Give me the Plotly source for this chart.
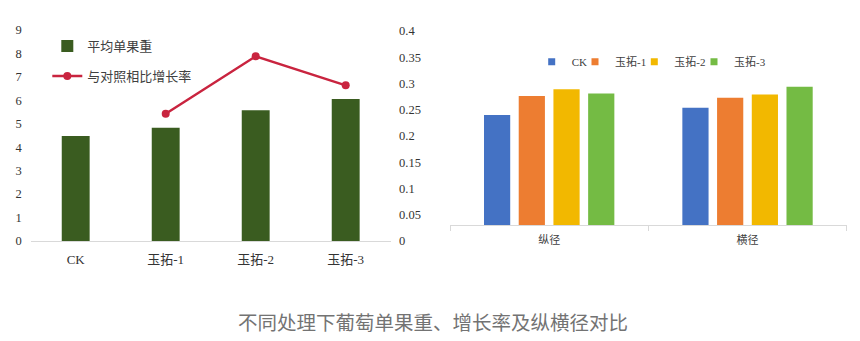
import plotly.graph_objects as go

# ---- data ----
treatments = ["CK", "玉拓-1", "玉拓-2", "玉拓-3"]
fruit_weight = [4.48, 4.83, 5.58, 6.06]          # 平均单果重
growth_rate = [None, 5.43, 7.88, 6.64]           # 与对照相比增长率
left_ticks = [0, 1, 2, 3, 4, 5, 6, 7, 8, 9]

diameters = ["纵径", "横径"]
diameter_values = {
    "CK": [0.240, 0.254],
    "玉拓-1": [0.276, 0.273],
    "玉拓-2": [0.289, 0.279],
    "玉拓-3": [0.281, 0.294],
}
right_ticks = [0, 0.05, 0.1, 0.15, 0.2, 0.25, 0.3, 0.35, 0.4]
right_tick_text = ["0", "0.05", "0.1", "0.15", "0.2", "0.25", "0.3", "0.35", "0.4"]

title_text = "不同处理下葡萄单果重、增长率及纵横径对比"

# ---- styling ----
W, H = 860, 341
SERIF = "Liberation Serif, Noto Sans CJK SC"
SANS = "Noto Sans CJK SC, Liberation Sans"
series_colors = {"CK": "#4472c4", "玉拓-1": "#ed7d31", "玉拓-2": "#f2b800", "玉拓-3": "#74bb44"}
GREEN = "#3a5c20"
RED = "#c9243f"
AXIS_GRAY = "#d9d9d9"


def px_y(py):
    return 1 - py / H


def px_x(px):
    return px / W


fig = go.Figure()

# left: fruit weight bars + growth rate line
fig.add_trace(go.Bar(
    x=treatments, y=fruit_weight, name="平均单果重", width=0.31,
    marker=dict(color=GREEN, line=dict(width=0)),
    xaxis="x", yaxis="y", legend="legend",
))
fig.add_trace(go.Scatter(
    x=treatments, y=growth_rate, name="与对照相比增长率", mode="lines+markers",
    line=dict(color=RED, width=2.5), marker=dict(color=RED, size=8),
    xaxis="x", yaxis="y", legend="legend2", cliponaxis=False,
))

# right: grouped diameter bars
legend_names = ["legend3", "legend4", "legend5", "legend6"]
for name, lg in zip(treatments, legend_names):
    fig.add_trace(go.Bar(
        x=diameters, y=diameter_values[name], name=name,
        marker=dict(color=series_colors[name], line=dict(width=0)),
        xaxis="x2", yaxis="y2", showlegend=False,
    ))
    # small square key for the legend
    fig.add_trace(go.Scatter(
        x=[None], y=[None], name=name, mode="markers",
        marker=dict(symbol="square", size=7, color=series_colors[name]),
        xaxis="x2", yaxis="y2", legend=lg, hoverinfo="skip",
    ))

# tick scale shown beside the right chart
fig.add_trace(go.Scatter(x=[None], y=[None], xaxis="x3", yaxis="y3",
                         showlegend=False, hoverinfo="skip"))

tick_font_l = dict(family=SERIF, size=12.5, color="#333333")
cat_font_l = dict(family=SERIF, size=13, color="#333333")

layout = dict(
    width=W, height=H,
    margin=dict(l=0, r=0, t=0, b=0, autoexpand=False),
    paper_bgcolor="white", plot_bgcolor="rgba(0,0,0,0)",
    barmode="group", bargap=0.3, bargroupgap=0.245,
    showlegend=True,
    xaxis=dict(
        domain=[px_x(30.7), px_x(390.7)], anchor="y", automargin=False,
        showline=True, linecolor=AXIS_GRAY, linewidth=1,
        showgrid=False, ticks="", tickfont=cat_font_l, ticklabelstandoff=6,
    ),
    yaxis=dict(
        domain=[px_y(241), px_y(30)], anchor="x", automargin=False,
        range=[0, 9], tickvals=left_ticks, showgrid=False, zeroline=False,
        showline=False, ticks="", tickfont=tick_font_l, ticklabelstandoff=8,
    ),
    xaxis2=dict(
        domain=[px_x(450), px_x(846.7)], anchor="y2", automargin=False,
        showline=True, linecolor=AXIS_GRAY, linewidth=1,
        showgrid=False, ticks="outside", tickson="boundaries", ticklen=5,
        tickcolor=AXIS_GRAY, ticklabelstandoff=5,
        tickfont=dict(family=SANS, size=11, color="#404040"),
    ),
    yaxis2=dict(
        domain=[px_y(225), px_y(31)], anchor="x2", automargin=False,
        range=[0.0305, 0.4], showgrid=False, zeroline=False,
        showline=False, showticklabels=False, ticks="",
    ),
    xaxis3=dict(domain=[0.44, px_x(398)], anchor="y3", visible=False),
    yaxis3=dict(
        domain=[px_y(241), px_y(31)], anchor="x3", side="right", automargin=False,
        range=[0, 0.4], tickvals=right_ticks, ticktext=right_tick_text,
        showgrid=False, zeroline=False, showline=False, ticks="",
        tickfont=tick_font_l,
    ),
)

leg_common = dict(bgcolor="rgba(0,0,0,0)", borderwidth=0, xanchor="left", yanchor="middle")
layout["legend"] = dict(x=px_x(47.3), y=px_y(46),
                        font=dict(family=SANS, size=13, color="#404040"), **leg_common)
layout["legend2"] = dict(x=px_x(47.3), y=px_y(76),
                         font=dict(family=SANS, size=13, color="#404040"), **leg_common)
for lg, tx in zip(legend_names, [571.7, 615.0, 674.3, 734.0]):
    layout[lg] = dict(x=px_x(tx - 40), y=px_y(61.7),
                      font=dict(family=SERIF, size=11, color="#404040"), **leg_common)

fig.update_layout(**layout)

fig.add_annotation(
    text=title_text, xref="paper", yref="paper",
    x=px_x(433), y=px_y(321.7), xanchor="center", yanchor="middle",
    showarrow=False, font=dict(family=SANS, size=19.5, color="#737373"),
)

fig.write_html("out.html")
